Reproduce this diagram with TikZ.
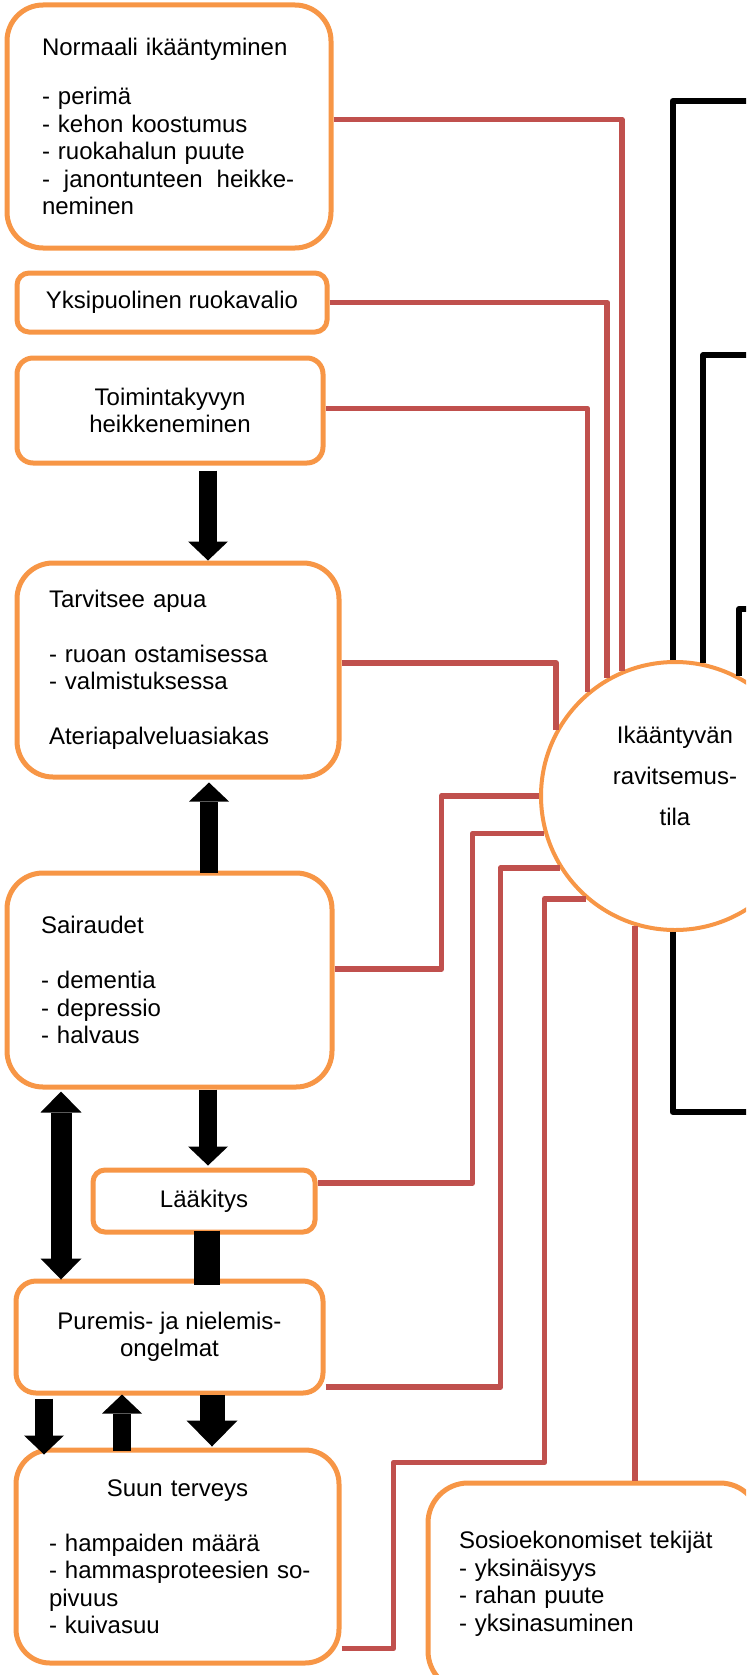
\documentclass[tikz,border=0pt]{standalone}
\usepackage{fontspec}
\setmainfont{Liberation Sans}
\usetikzlibrary{arrows.meta}

\definecolor{boxorange}{HTML}{F79646}
\definecolor{linkred}{HTML}{C0504D}

\tikzset{
    factorbox/.style = {draw = boxorange, line width = 2.5pt, fill = white, inner sep = 0pt,
        font = {\fontsize{12}{13.75}\selectfont}},
    redline/.style = {draw = linkred, line width = 2.9pt, line join = round},
    blackline/.style = {draw = black, line width = 2.9pt, line join = round},
    fatarrow/.style = {line width = 9pt, -{Triangle[width = 20pt, length = 9.5pt, line width = 0pt]}},
    bigarrow/.style = {line width = 12.5pt, -{Triangle[width = 25.5pt, length = 13pt, line width = 0pt]}},
    dblarrow/.style = {line width = 10.5pt,
        {Triangle[width = 20.5pt, length = 10.5pt, line width = 0pt]}-{Triangle[width = 20.5pt, length = 10.5pt, line width = 0pt]}},
}

\begin{document}
\begin{tikzpicture}[x = 0.5pt, y = -0.5pt]
        \useasboundingbox (0, 0) rectangle (746, 1675);
        \clip (0, 0) rectangle (746, 1675);

        % tekijat vasemmalla
        \node[factorbox, rounded corners = 18pt, minimum width = 162pt, minimum height = 121.5pt, text width = 127pt, align = left] (normal) at (169, 126.5)
            {Normaali ikääntyminen\\[11pt]- perimä\\- kehon koostumus\\- ruokahalun puute\\-\hspace{7pt}janontunteen\hspace{7pt}heikke-\\neminen};
        \node[factorbox, rounded corners = 6pt, minimum width = 155pt, minimum height = 29.5pt, align = center] (diet) at (172, 302.5) {Yksipuolinen ruokavalio};
        \node[factorbox, rounded corners = 8pt, minimum width = 153pt, minimum height = 52.5pt, align = center] (ability) at (170, 410.5) {Toimintakyvyn\\heikkeneminen};
        \node[factorbox, rounded corners = 18pt, minimum width = 161pt, minimum height = 107pt, text width = 129pt, align = left] (help) at (178, 670)
            {Tarvitsee apua\\[13.75pt]- ruoan ostamisessa\\- valmistuksessa\\[13.75pt]Ateriapalveluasiakas};
        \node[factorbox, rounded corners = 18pt, minimum width = 162.5pt, minimum height = 107pt, text width = 128.5pt, align = left] (illness) at (169.5, 980)
            {Sairaudet\\[13.75pt]- dementia\\- depressio\\- halvaus};
        \node[factorbox, rounded corners = 6pt, minimum width = 111pt, minimum height = 31pt, align = center] (meds) at (204, 1201) {Lääkitys};
        \node[factorbox, rounded corners = 10pt, minimum width = 153.5pt, minimum height = 56pt, align = center] (chewing) at (169.5, 1337) {Puremis- ja nielemis-\\ongelmat};
        \node[factorbox, rounded corners = 17pt, minimum width = 161.5pt, minimum height = 106.5pt, text width = 128.5pt, align = left] (mouth) at (177.5, 1556.5)
            {\makebox[128.5pt]{Suun terveys}\\[13.75pt]- hampaiden määrä\\\mbox{- hammasproteesien so-}\\pivuus\\- kuivasuu};
        \node[factorbox, rounded corners = 20pt, minimum width = 166pt, minimum height = 104pt, text width = 135pt, align = left] (social) at (594, 1587)
            {Sosioekonomiset tekijät\\- yksinäisyys\\- rahan puute\\- yksinasuminen\\[-8.25pt]\mbox{}};

        % ravitsemustila
        \node[circle, draw = boxorange, line width = 2pt, fill = white, minimum size = 134pt, inner sep = 0pt, align = center,
            font = {\fontsize{12}{20.5}\selectfont}] (state) at (675, 796) {Ikääntyvän\\ravitsemus-\\tila\\\mbox{}};

        % mustat yhteydet kuvan ulkopuolelle
        \coordinate (out1) at (760, 101);
        \coordinate (out2) at (760, 355);
        \coordinate (out3) at (760, 609);
        \coordinate (out4) at (760, 1112);
        \draw[blackline] (state.91) |- (out1);
        \draw[blackline] (state.78) |- (out2);
        \draw[blackline] (state.62) |- (out3);
        \draw[blackline] (state.269) |- (out4);

        % punaiset yhteydet
        \draw[redline] ([shift = {(0, -7)}]normal.east) -| (state.113);
        \draw[redline] (diet.east) -| (state.120);
        \draw[redline] ([shift = {(0, -2)}]ability.east) -| (state.130);
        \draw[redline] ([shift = {(0, -7)}]help.east) -| (state.151);
        \draw[redline] ([shift = {(0, -11)}]illness.east) -- ++(107, 0) |- (state.180);
        \draw[redline] ([shift = {(0, -18)}]meds.east) -- ++(155, 0) |- (state.196);
        \draw[redline] ([shift = {(0, 50)}]chewing.east) -- ++(175, 0) |- (state.212);
        \draw[redline] ([shift = {(0, 92)}]mouth.east) -- ++(52, 0) |- ++(151, -186) |- (state.229);
        \draw[redline] (social.north -| state.253) -- (state.253);

        % paksut nuolet
        \draw[fatarrow] ([shift = {(38, 5)}]ability.south) -- ([shift = {(30, 0)}]help.north);
        \draw[fatarrow] ([shift = {(39.5, 2)}]illness.north) -- ([shift = {(31, 3)}]help.south);
        \draw[fatarrow] ([shift = {(38.5, 0)}]illness.south) -- ([shift = {(4, -2)}]meds.north);
        \draw[dblarrow] ([shift = {(-108.5, 2)}]illness.south) -- ([shift = {(-108.5, 1)}]chewing.north);
        \draw[line width = 13pt] ([shift = {(3, -4)}]meds.south) -- ([shift = {(37.5, 6)}]chewing.north);
        \draw[fatarrow] ([shift = {(-125.5, 3)}]chewing.south) -- ([shift = {(-133.5, 7)}]mouth.north);
        \draw[fatarrow] ([shift = {(-55.5, 3)}]mouth.north) -- ([shift = {(-47.5, -1)}]chewing.south);
        \draw[bigarrow] ([shift = {(42.5, -1)}]chewing.south) -- ([shift = {(34.5, -1)}]mouth.north);
    \end{tikzpicture}
\end{document}
